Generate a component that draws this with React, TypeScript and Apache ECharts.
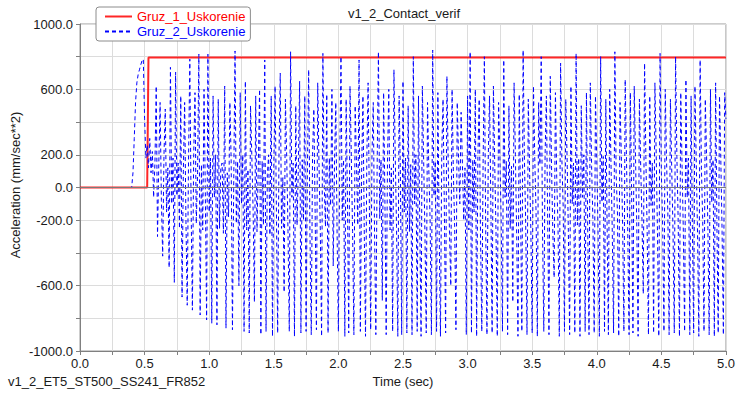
import React, { useEffect, useRef } from 'react';
import * as echarts from 'echarts';

const seriesNames = ['Gruz_1_Uskorenie', 'Gruz_2_Uskorenie'];
const titleText = 'v1_2_Contact_verif';
const runLabel = 'v1_2_ET5_ST500_SS241_FR852';
const xAxisTitle = 'Time (sec)';
const yAxisTitle = 'Acceleration (mm/sec**2)';

// Gruz_1 (red): step
const redTimes = [0, 0.52, 0.53, 5.0];
const redValues = [0, 0, 795, 795];

// Gruz_2 (blue, dashed): sampled every 0.01 s from 0.40 s (before that it is 0)
const blueStartTime = 0.4;
const blueStep = 0.01;
const blueSeg040 = [
  0, 90, 300, 520, 640, 690, 720, 750, 775, 785,
  420, 180, 260, 120, 300, 90, 220, -60, 150, 620,
  -300, 150, 520, -80, -420, 200, 480, -150, 120, -490,
  735, -100, 180, -580, 705, -50, 150, -250, 560, -670,
  100, 520, -200, -720, 160, 785, -120, -750, 200, 580,
  -220, 90, 815, -780, 140, -260, 600, -30, -810, 815,
];
const blueSeg100 = [
  -150, 180, -830, 560, -60, 200, -840, 540, -250, 120,
  150, -280, 620, -860, 90, -180, 520, 170, -870, 40,
  835, -220, 160, -600, 580, -100, 200, -880, 650, -260,
  110, -890, 500, 190, -140, -700, 560, -270, 130, 600,
  -900, 160, -230, 780, -880, 80, 200, -290, 560, -910,
  130, 620, -120, -890, 180, 700, -250, 60, -640, 540,
  190, -270, -880, 830, -60, 150, -910, 500, -230, 120,
  650, -890, 170, -200, 560, -880, 90, 720, -280, -900,
  200, 480, -150, -870, 640, 140, -260, -910, 820, 30,
  -240, 570, -890, 180, -110, 600, -480, 150, 520, -280,
];
const blueSeg200 = [
  -880, 120, 800, -200, 170, -910, 540, -60, -890, 620,
  190, -270, -900, 500, 150, -230, 780, -880, 100, 560,
  -250, -910, 180, 640, -120, -870, 200, 520, -280, -900,
  130, 830, -190, 170, -690, 580, -60, -900, 150, 600,
  -260, 120, -880, 720, 190, -240, -910, 560, 80, -900,
  650, -150, 180, -890, 500, -270, 140, -900, 800, -100,
  200, -880, 560, -230, -910, 620, 170, -280, -890, 520,
  110, -200, -900, 840, -50, 160, -880, 580, -260, -910,
  200, 540, -120, -890, 680, 150, -280, -600, 600, 90,
  -240, -870, 520, 180, -100, 460, 150, -200, 120, -900,
];
const blueSeg300 = [
  560, -260, 830, -890, 170, -150, 600, -910, 200, 540,
  -280, -880, 140, 800, -230, -900, 180, 560, -90, -890,
  620, 150, -270, -910, 520, 190, -200, -880, 780, -60,
  160, -900, 500, -250, 130, -700, 640, 200, -280, -910,
  570, -120, -880, 840, 170, -230, -900, 540, 100, -270,
  -890, 620, 180, -150, -910, 520, 140, 800, -260, -880,
  200, 560, -200, -900, 680, 120, -280, -550, 580, 60,
  -240, -910, 760, 170, -120, -880, 540, 190, -270, -900,
  620, -100, 150, -890, 820, -230, 180, -910, 500, -60,
  200, -880, 580, -260, -900, 640, 130, -200, -890, 560,
];
const blueSeg400 = [
  170, -280, -910, 800, -90, 190, -880, 540, -240, -900,
  600, 150, -270, -890, 830, 80, -150, -910, 520, 200,
  -230, -880, 660, 170, -280, -900, 580, -60, -890, 620,
  180, -250, -910, 540, 130, -200, -650, 760, 190, -270,
  -900, 560, -110, 150, -890, 640, 200, -280, -910, 820,
  90, -230, -880, 600, 170, -150, -900, 540, 120, -260,
  -890, 800, 190, -200, -910, 580, 140, -270, -880, 660,
  -60, 180, -900, 560, -240, -890, 620, 150, -280, -910,
  780, 120, -200, -880, 540, 190, -250, -900, 600, -90,
  170, -910, 640, -230, -890, 560, 180, -270, -900, 580,
  420,
];

const yLabelValues = [1000, 600, 200, 0, -200, -600, -1000];
const xLabelValues = [0, 0.5, 1, 1.5, 2, 2.5, 3, 3.5, 4, 4.5, 5];

const FONT = '"Liberation Sans", Arial, sans-serif';
const TEXT_COLOR = '#1a1a1a';

export default function App() {
  const ref = useRef<HTMLDivElement>(null);

  useEffect(() => {
    if (!ref.current) return;
    const chart = echarts.init(ref.current, null, { renderer: 'svg' });

    const redData = redTimes.map((t, i) => [t, redValues[i]]);
    const blueValues = [
      ...blueSeg040,
      ...blueSeg100,
      ...blueSeg200,
      ...blueSeg300,
      ...blueSeg400,
    ];
    const blueData: number[][] = [[0, 0]];
    blueValues.forEach((v, i) => {
      blueData.push([+(blueStartTime + i * blueStep).toFixed(2), v]);
    });

    const near = (v: number, list: number[]) => list.some((x) => Math.abs(x - v) < 1e-6);

    chart.setOption({
      animation: false,
      backgroundColor: '#ffffff',
      textStyle: { fontFamily: FONT },
      grid: {
        left: 80,
        right: 11,
        top: 24,
        bottom: 42,
        show: true,
        borderColor: '#9a9a9a',
        borderWidth: 1,
        backgroundColor: 'transparent',
      },
      legend: {
        show: true,
        orient: 'vertical',
        left: 96,
        top: 7,
        padding: [3, 5, 3, 8],
        itemWidth: 27,
        itemHeight: 14,
        itemGap: 2,
        itemTextGap: 2,
        backgroundColor: '#ffffff',
        borderColor: '#8c8c8c',
        borderWidth: 1,
        borderRadius: 3,
        itemStyle: { opacity: 0 },
        textStyle: { fontSize: 13, fontFamily: FONT },
        data: [
          { name: seriesNames[0], textStyle: { color: '#ff0000' } },
          { name: seriesNames[1], textStyle: { color: '#0000ff' } },
        ],
      },
      xAxis: {
        type: 'value',
        min: 0,
        max: 5,
        interval: 0.25,
        axisLine: { onZero: false, lineStyle: { color: '#808080', width: 1 } },
        axisTick: { show: true, length: 4, lineStyle: { color: '#808080' } },
        axisLabel: {
          color: TEXT_COLOR,
          fontSize: 13,
          fontFamily: FONT,
          margin: 6,
          showMinLabel: true,
          showMaxLabel: true,
          formatter: (v: number) => (near(v, xLabelValues) ? v.toFixed(1) : ''),
        },
        splitLine: { show: true, lineStyle: { color: '#dcdcdc', width: 1 } },
      },
      yAxis: {
        type: 'value',
        min: -1000,
        max: 1000,
        interval: 200,
        axisLine: { show: true, lineStyle: { color: '#808080', width: 1 } },
        axisTick: { show: true, length: 4, lineStyle: { color: '#808080' } },
        axisLabel: {
          color: TEXT_COLOR,
          fontSize: 13,
          fontFamily: FONT,
          margin: 7,
          showMinLabel: true,
          showMaxLabel: true,
          formatter: (v: number) => (near(v, yLabelValues) ? v.toFixed(1) : ''),
        },
        splitLine: { show: true, lineStyle: { color: '#dcdcdc', width: 1 } },
      },
      series: [
        {
          name: seriesNames[0],
          type: 'line',
          data: redData,
          symbol: 'none',
          showSymbol: false,
          lineStyle: { color: '#ff0000', width: 2, type: 'solid', opacity: 0.85 },
          itemStyle: { color: '#ff0000' },
          z: 2,
          markLine: {
            silent: true,
            symbol: 'none',
            label: { show: false },
            lineStyle: { color: '#7a7a7a', type: 'solid', width: 1 },
            data: [{ yAxis: 0 }],
          },
        },
        {
          name: seriesNames[1],
          type: 'line',
          data: blueData,
          symbol: 'none',
          showSymbol: false,
          lineStyle: { color: '#0000ff', width: 1, type: [4, 3] },
          itemStyle: { color: '#0000ff' },
          z: 3,
        },
      ],
      graphic: [
        {
          type: 'text',
          x: 404,
          y: 13,
          style: {
            text: titleText,
            fill: TEXT_COLOR,
            font: `13px ${FONT}`,
            textAlign: 'center',
            textVerticalAlign: 'middle',
          },
        },
        {
          type: 'text',
          x: 8,
          y: 381,
          style: {
            text: runLabel,
            fill: TEXT_COLOR,
            font: `13px ${FONT}`,
            textAlign: 'left',
            textVerticalAlign: 'middle',
          },
        },
        {
          type: 'text',
          x: 403,
          y: 381,
          style: {
            text: xAxisTitle,
            fill: TEXT_COLOR,
            font: `13px ${FONT}`,
            textAlign: 'center',
            textVerticalAlign: 'middle',
          },
        },
        {
          type: 'text',
          x: 15,
          y: 185,
          rotation: Math.PI / 2,
          style: {
            text: yAxisTitle,
            fill: TEXT_COLOR,
            font: `13px ${FONT}`,
            textAlign: 'center',
            textVerticalAlign: 'middle',
          },
        },
      ],
    });

    return () => {
      chart.dispose();
    };
  }, []);

  return (
    <div
      ref={ref}
      style={{ position: 'fixed', left: 0, top: 0, width: 738, height: 393 }}
    />
  );
}
